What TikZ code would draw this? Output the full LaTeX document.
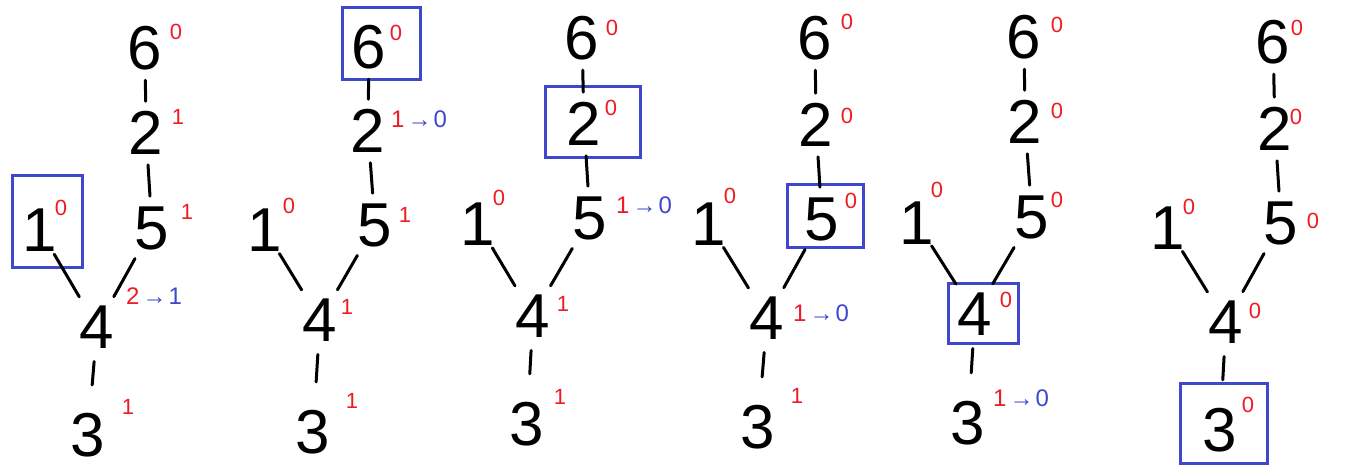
\documentclass[tikz,border=0pt]{standalone}
\usepackage{fontspec}
\setmainfont{Liberation Sans}
\definecolor{pred}{HTML}{ED1C24}
\definecolor{pblue}{HTML}{3F48CC}
\begin{document}
\begin{tikzpicture}[x=1pt,y=-1pt,
  dig/.style={font=\fontsize{62}{62}\selectfont, inner sep=0pt},
  sup/.style={text=pred, font=\fontsize{22}{22}\selectfont, inner sep=0pt},
  chg/.style={font=\fontsize{24}{24}\selectfont, inner sep=0pt, anchor=west},
  edge/.style={line width=3pt, line cap=round, shorten <=10pt, shorten >=10pt},
  edgeb/.style={line width=3pt, line cap=round, shorten <=13pt, shorten >=28pt},
  hl/.style={draw=pblue, line width=3pt, inner sep=0pt}]
\useasboundingbox (0,0) rectangle (1349,473);
\newcommand{\chgtxt}[2]{{\color{pred}#1}\kern3pt{\color{pblue}→\kern2pt#2}}
\newcommand{\one}{\makebox[18pt]{1}}

% ---------- panel 1 ----------
\node[dig] (a6) at (145,48) {6};  \node[sup] (a6s) at (176,32) {0};
\node[dig] (a2) at (146,133) {2}; \node[sup] (a2s) at (178,117) {1};
\node[dig] (a5) at (152,228) {5}; \node[sup] (a5s) at (187,212) {1};
\node[dig] (a1) at (40,230) {\one};  \node[sup] (a1s) at (61,208) {0};
\node[dig] (a4) at (97,327) {4};  \node[chg] (a4s) at (126,296) {\chgtxt{2}{1}};
\node[dig] (a3) at (88,435) {3};  \node[sup] (a3s) at (128,407) {1};
\node[hl, minimum width=70pt, minimum height=91pt] (abox) at (47,221.5) {};
\draw[edge] (a6) -- (a2); \draw[edge] (a2) -- (a5);
\draw[edge] (a1) -- (a4); \draw[edge] (a5) -- (a4);
\draw[edgeb] (a4) -- (a3);

% ---------- panel 2 ----------
\node[dig] (b6) at (369,47) {6};  \node[sup] (b6s) at (396,33) {0};
\node[dig] (b2) at (368,131) {2}; \node[chg] (b2s) at (391,119) {\chgtxt{1}{0}};
\node[dig] (b5) at (375,225) {5}; \node[sup] (b5s) at (405,215) {1};
\node[dig] (b1) at (265,230) {\one}; \node[sup] (b1s) at (289,206) {0};
\node[dig] (b4) at (320,320) {4}; \node[sup] (b4s) at (347,307) {1};
\node[dig] (b3) at (313,432) {3}; \node[sup] (b3s) at (352,401) {1};
\node[hl, minimum width=78pt, minimum height=72pt] (bbox) at (381,44) {};
\draw[edge] (b6) -- (b2); \draw[edge] (b2) -- (b5);
\draw[edge] (b1) -- (b4); \draw[edge] (b5) -- (b4);
\draw[edgeb] (b4) -- (b3);

% ---------- panel 3 ----------
\node[dig] (c6) at (582,38) {6};  \node[sup] (c6s) at (612,28) {0};
\node[dig] (c2) at (584,124) {2}; \node[sup] (c2s) at (611,108) {0};
\node[dig] (c5) at (590,218) {5}; \node[chg] (c5s) at (616,205) {\chgtxt{1}{0}};
\node[dig] (c1) at (478,224) {\one}; \node[sup] (c1s) at (499,198) {0};
\node[dig] (c4) at (533,316) {4}; \node[sup] (c4s) at (563,304) {1};
\node[dig] (c3) at (527,424) {3}; \node[sup] (c3s) at (560,397) {1};
\node[hl, minimum width=95pt, minimum height=71pt] (cbox) at (592.5,122.5) {};
\draw[edge] (c6) -- (c2); \draw[edge] (c2) -- (c5);
\draw[edge] (c1) -- (c4); \draw[edge] (c5) -- (c4);
\draw[edgeb] (c4) -- (c3);

% ---------- panel 4 ----------
\node[dig] (d6) at (815,38) {6};  \node[sup] (d6s) at (847,22) {0};
\node[dig] (d2) at (816,125) {2}; \node[sup] (d2s) at (847,116) {0};
\node[dig] (d5) at (822,219) {5}; \node[sup] (d5s) at (851,201) {0};
\node[dig] (d1) at (709,224) {\one}; \node[sup] (d1s) at (730,196) {0};
\node[dig] (d4) at (767,318) {4}; \node[chg] (d4s) at (793,313) {\chgtxt{1}{0}};
\node[dig] (d3) at (758,427) {3}; \node[sup] (d3s) at (797,396) {1};
\node[hl, minimum width=76pt, minimum height=62pt] (dbox) at (825,216) {};
\draw[edge] (d6) -- (d2); \draw[edge] (d2) -- (d5);
\draw[edge] (d1) -- (d4); \draw[edge] (d5) -- (d4);
\draw[edgeb] (d4) -- (d3);

% ---------- panel 5 ----------
\node[dig] (e6) at (1024,37) {6};  \node[sup] (e6s) at (1057,25) {0};
\node[dig] (e2) at (1025,122) {2}; \node[sup] (e2s) at (1057,111) {0};
\node[dig] (e5) at (1032,217) {5}; \node[sup] (e5s) at (1057,200) {0};
\node[dig] (e1) at (917,223) {\one};  \node[sup] (e1s) at (937,190) {0};
\node[dig] (e4) at (975,314) {4};  \node[sup] (e4s) at (1006,300) {0};
\node[dig] (e3) at (968,423) {3};  \node[chg] (e3s) at (993,398) {\chgtxt{1}{0}};
\node[hl, minimum width=70pt, minimum height=60pt] (ebox) at (983,313) {};
\draw[edge] (e6) -- (e2); \draw[edge] (e2) -- (e5);
\draw[edge] (e1) -- (e4); \draw[edge] (e5) -- (e4);
\draw[edgeb] (e4) -- (e3);

% ---------- panel 6 ----------
\node[dig] (f6) at (1273,42) {6};  \node[sup] (f6s) at (1297,28) {0};
\node[dig] (f2) at (1275,129) {2}; \node[sup] (f2s) at (1296,117) {0};
\node[dig] (f5) at (1281,223) {5}; \node[sup] (f5s) at (1313,221) {0};
\node[dig] (f1) at (1168,228) {\one}; \node[sup] (f1s) at (1189,207) {0};
\node[dig] (f4) at (1226,322) {4}; \node[sup] (f4s) at (1255,311) {0};
\node[dig] (f3) at (1220,430) {3}; \node[sup] (f3s) at (1248,405) {0};
\node[hl, minimum width=87pt, minimum height=80pt] (fbox) at (1223.5,423) {};
\draw[edge] (f6) -- (f2); \draw[edge] (f2) -- (f5);
\draw[edge] (f1) -- (f4); \draw[edge] (f5) -- (f4);
\draw[edgeb] (f4) -- (f3);
\end{tikzpicture}
\end{document}
